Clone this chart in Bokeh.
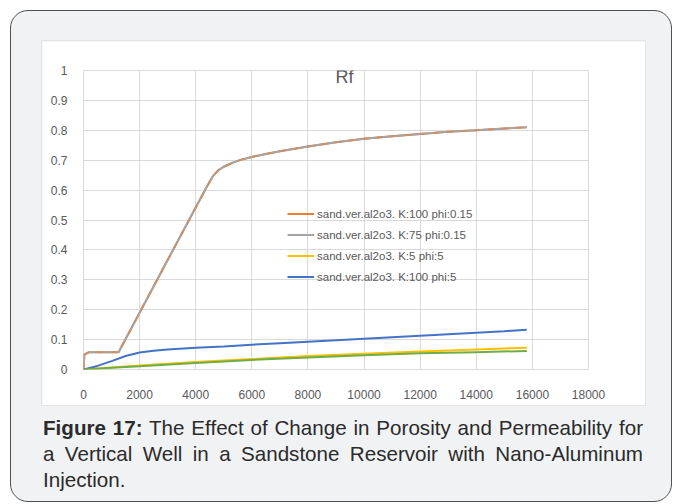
from bokeh.plotting import figure
from bokeh.models import Legend, LegendItem, FixedTicker, Label, Div, Spacer
from bokeh.layouts import column, row
from bokeh.embed import file_html
from bokeh.resources import INLINE

# ---- data ----
x_k100_phi015 = [0, 30, 200, 1250, 2000, 3000, 4000, 4400, 4600, 4800, 5000, 5300, 5600,
                 6000, 6500, 7000, 8000, 9000, 10000, 11000, 12000, 13000, 14000, 15000, 15800]
y_k100_phi015 = [0, 0.05, 0.058, 0.058, 0.19, 0.366, 0.542, 0.612, 0.645, 0.666, 0.678,
                 0.691, 0.701, 0.711, 0.721, 0.73, 0.746, 0.76, 0.772, 0.78, 0.788, 0.795,
                 0.80, 0.806, 0.81]

x_k75_phi015 = [0, 30, 200, 1250, 2000, 3000, 4000, 4400, 4600, 4800, 5000, 5300, 5600,
                6000, 6500, 7000, 8000, 9000, 10000, 11000, 12000, 13000, 14000, 15000, 15800]
y_k75_phi015 = [0, 0.05, 0.058, 0.058, 0.19, 0.366, 0.542, 0.612, 0.645, 0.666, 0.678,
                0.691, 0.701, 0.711, 0.721, 0.73, 0.746, 0.76, 0.772, 0.78, 0.788, 0.795,
                0.80, 0.806, 0.81]

x_k5_phi5 = [0, 1000, 2000, 4000, 6000, 8000, 10000, 12000, 14000, 15800]
y_k5_phi5 = [0, 0.007, 0.013, 0.025, 0.035, 0.045, 0.053, 0.06, 0.067, 0.073]

x_k100_phi5 = [0, 500, 1000, 1500, 2000, 2500, 3000, 4000, 5000, 6000, 7000, 8000, 9000,
               10000, 11000, 12000, 13000, 14000, 15000, 15800]
y_k100_phi5 = [0, 0.012, 0.028, 0.045, 0.057, 0.063, 0.067, 0.073, 0.077, 0.083, 0.088, 0.093,
               0.098, 0.103, 0.108, 0.113, 0.118, 0.123, 0.128, 0.133]

x_extra = [0, 1000, 2000, 4000, 6000, 8000, 10000, 12000, 14000, 15800]
y_extra = [0, 0.006, 0.011, 0.022, 0.032, 0.04, 0.048, 0.054, 0.058, 0.062]

legend_labels = ["sand.ver.al2o3. K:100 phi:0.15", "sand.ver.al2o3. K:75 phi:0.15",
                 "sand.ver.al2o3. K:5 phi:5", "sand.ver.al2o3. K:100 phi:5"]

x_ticks = [0, 2000, 4000, 6000, 8000, 10000, 12000, 14000, 16000, 18000]
x_tick_labels = ["0", "2000", "4000", "6000", "8000", "10000", "12000", "14000", "16000", "18000"]
y_ticks = [0, 0.1, 0.2, 0.3, 0.4, 0.5, 0.6, 0.7, 0.8, 0.9, 1]
y_tick_labels = ["0", "0.1", "0.2", "0.3", "0.4", "0.5", "0.6", "0.7", "0.8", "0.9", "1"]

chart_title = "Rf"
caption_bold = "Figure 17:"
caption_lines = ["The Effect of Change in Porosity and Permeability for",
                 "a Vertical Well in a Sandstone Reservoir with Nano-Aluminum",
                 "Injection."]

FONT = "Liberation Sans"
GRID = "#d9d9d9"
TXT = "#595959"

p = figure(width=603, height=364, x_range=(0, 18000), y_range=(0, 1),
           output_backend="svg", toolbar_location=None,
           min_border_left=41, min_border_right=57, min_border_top=29, min_border_bottom=36,
           background_fill_color="white", border_fill_color="white",
           outline_line_color=GRID)
p.styles = {"outline": "1px solid #e4e4e4"}

r_or = p.line(x_k100_phi015, y_k100_phi015, line_color="#ED7D31", line_width=2)
r_gr = p.line(x_k75_phi015, y_k75_phi015, line_color="#A5A5A5", line_width=2)
p.line(x_k100_phi015, y_k100_phi015, line_color="#ED7D31", line_width=1.6, line_alpha=0.55,
       line_dash="6 8")
r_ye = p.line(x_k5_phi5, y_k5_phi5, line_color="#FFC000", line_width=2)
r_bl = p.line(x_k100_phi5, y_k100_phi5, line_color="#4472C4", line_width=2)
p.line(x_extra, y_extra, line_color="#70AD47", line_width=2)

for ax, ticks, labels in ((p.xaxis, x_ticks, x_tick_labels), (p.yaxis, y_ticks, y_tick_labels)):
    ax.ticker = FixedTicker(ticks=ticks)
    ax.major_label_overrides = {t: l for t, l in zip(ticks, labels)}
    ax.axis_line_color = None
    ax.major_tick_line_color = None
    ax.minor_tick_line_color = None
    ax.major_label_text_color = TXT
    ax.major_label_text_font = FONT
    ax.major_label_text_font_size = "12px"
p.xaxis.major_label_standoff = 14
p.yaxis.major_label_standoff = 10

p.xgrid.ticker = FixedTicker(ticks=x_ticks)
p.ygrid.ticker = FixedTicker(ticks=y_ticks)
p.xgrid.grid_line_color = GRID
p.ygrid.grid_line_color = GRID

legend = Legend(items=[LegendItem(label=legend_labels[0], renderers=[r_or]),
                       LegendItem(label=legend_labels[1], renderers=[r_gr]),
                       LegendItem(label=legend_labels[2], renderers=[r_ye]),
                       LegendItem(label=legend_labels[3], renderers=[r_bl])],
                location=(204, 82), border_line_color=None, background_fill_alpha=0,
                padding=0, margin=0, spacing=0, glyph_width=27, glyph_height=21,
                label_height=21, label_standoff=3, label_text_font=FONT,
                label_text_font_size="11.5px", label_text_color=TXT)
p.add_layout(legend)

p.add_layout(Label(x=9300, y=0.978, text=chart_title, text_align="center",
                   text_baseline="middle", text_font=FONT, text_font_size="18px",
                   text_color=TXT))

line_css = "display:block;white-space:nowrap;text-align:justify;text-align-last:justify;"
caption_html = (
    '<div style="width:600px;font-family:\'Liberation Sans\',Arial,sans-serif;'
    'font-size:20.6px;line-height:26px;color:#2b2b2b;">'
    '<span style="%s"><b>%s</b> %s</span>'
    '<span style="%s">%s</span>'
    '<span style="display:block;white-space:nowrap;">%s</span></div>'
    % (line_css, caption_bold, caption_lines[0], line_css, caption_lines[1], caption_lines[2]))
div = Div(text=caption_html, width=600, height=80, margin=0)

layout = column(Spacer(height=30),
                row(Spacer(width=31), p),
                Spacer(height=10),
                row(Spacer(width=32), div),
                width=662, height=492, margin=(10, 0, 0, 10),
                styles={"background-color": "#f1f2f4", "border": "1.5px solid #505050",
                        "border-radius": "18px"})

open("out.html", "w").write(file_html(layout, INLINE))
